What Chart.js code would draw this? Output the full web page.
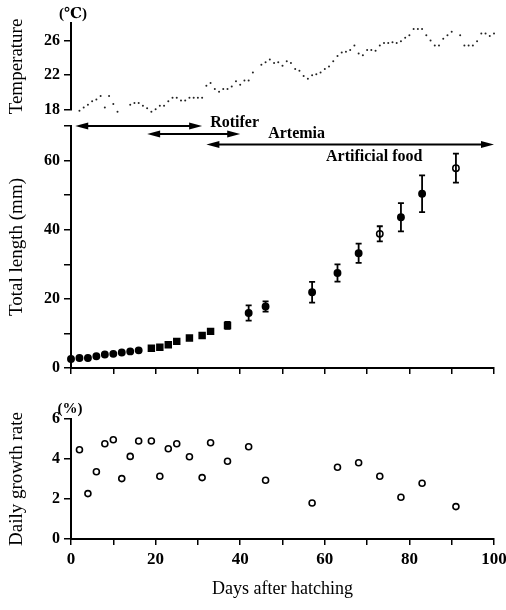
<!DOCTYPE html>
<html>
<head>
<meta charset="utf-8">
<script src="https://cdn.jsdelivr.net/npm/chart.js@4"></script>
<style>
  body { margin: 0; background: #fff; }
  #wrap { position: relative; width: 506px; height: 610px; }
  canvas { position: absolute; left: 0; }
</style>
</head>
<body>
<div id="wrap">
  <canvas id="temp-chart" width="506" height="120" style="top:0"></canvas>
  <canvas id="length-chart" width="506" height="275" style="top:100px"></canvas>
  <canvas id="rate-chart" width="506" height="230" style="top:380px"></canvas>
</div>
<script>
// water temperature, daily readings
var tempDays = [2, 3, 4, 5, 6, 7, 8, 9, 10, 11,
  14, 15, 16, 17, 18, 19, 20, 21, 22, 23,
  24, 25, 26, 27, 28, 29, 30, 31, 32, 33,
  34, 35, 36, 37, 38, 39, 40, 41, 42, 43,
  45, 46, 47, 48, 49, 50, 51, 52, 53, 54,
  55, 56, 57, 58, 59, 60, 61, 62, 63, 64,
  65, 66, 67, 68, 69, 70, 71, 72, 73, 74,
  75, 76, 77, 78, 79, 80, 81, 82, 83, 84,
  85, 86, 87, 88, 89, 90,
  92, 93, 94, 95, 96, 97, 98, 99, 100, 101];
var temps = [17.9, 18.3, 18.6, 19.0, 19.2, 19.6, 18.3, 19.6, 18.7, 17.8,
  18.6, 18.8, 18.8, 18.5, 18.2, 17.8, 18.1, 18.5, 18.5, 19.0,
  19.4, 19.4, 19.1, 19.1, 19.4, 19.4, 19.4, 19.4, 20.8, 21.1,
  20.4, 20.1, 20.4, 20.4, 20.7, 21.3, 20.9, 21.4, 21.4, 22.3,
  23.2, 23.5, 23.8, 23.4, 23.5, 23.1, 23.6, 23.4, 22.7, 22.5,
  21.9, 21.6, 22.0, 22.1, 22.3, 22.7, 23.0, 23.6, 24.2, 24.6,
  24.7, 24.9, 25.4, 24.5, 24.3, 24.9, 24.9, 24.8, 25.4, 25.7,
  25.7, 25.8, 25.7, 25.9, 26.3, 26.6, 27.3, 27.3, 27.3, 26.6,
  26.0, 25.4, 25.4, 26.2, 26.6, 27.0,
  26.6, 25.4, 25.4, 25.4, 25.9, 26.8, 26.8, 26.5, 26.8, 27.5];

// total length (mm), mean and SD
var lengthDays = [0, 2, 4, 6, 8, 10, 12, 14, 16, 19, 21, 23, 25, 28, 31, 33, 37, 42, 46, 57, 63, 68, 73, 78, 83, 91];
var lengths = [2.6, 2.9, 2.9, 3.4, 3.9, 4.1, 4.5, 4.8, 5.1, 5.7, 6.0, 6.7, 7.7, 8.7, 9.4, 10.6, 12.3, 15.9, 17.8, 21.9, 27.5, 33.2, 38.8, 43.6, 50.4, 57.8];
var lengthSD = [0, 0, 0, 0, 0, 0, 0, 0, 0, 0, 0, 0, 0, 0, 0, 0, 1.0, 2.2, 1.5, 3.0, 2.5, 2.8, 2.2, 4.1, 5.3, 4.2];

// daily growth rate (%)
var rateDays = [2, 4, 6, 8, 10, 12, 14, 16, 19, 21, 23, 25, 28, 31, 33, 37, 42, 46, 57, 63, 68, 73, 78, 83, 91];
var rates = [4.46, 2.27, 3.36, 4.76, 4.96, 3.02, 4.13, 4.9, 4.9, 3.14, 4.51, 4.76, 4.11, 3.07, 4.81, 3.89, 4.61, 2.94, 1.8, 3.59, 3.81, 3.14, 2.09, 2.79, 1.62];

// feeding periods (days)
var feeds = ['Rotifer', 'Artemia', 'Artificial food'];
var feedStart = [1, 18, 32];
var feedEnd = [31, 40, 100];

Chart.defaults.font.family = "'Liberation Serif', 'Times New Roman', serif";
Chart.defaults.color = '#000';
Chart.defaults.animation = false;

var AREA_LEFT = 71;

function pairs(xs, ys) {
  return xs.map(function (x, i) { return { x: x, y: ys[i] }; });
}

function leftAxis(min, max, step, every, title) {
  return {
    type: 'linear', position: 'left', min: min, max: max,
    border: { display: true, color: '#000', width: 2 },
    grid: { drawOnChartArea: false, tickLength: 7, color: '#000', lineWidth: 1.5 },
    ticks: {
      stepSize: step, padding: 4, color: '#000',
      font: { size: 16, weight: 'bold' },
      callback: function (v) { return (v - min) % every === 0 ? String(v) : ''; }
    },
    title: { display: true, text: title, color: '#000', font: { size: 19 }, padding: { top: 6, bottom: 0 } },
    afterFit: function (s) { s.width = AREA_LEFT; s.paddingTop = 0; s.paddingBottom = 0; }
  };
}

function dayAxis(show, labels, height, title) {
  return {
    type: 'linear', position: 'bottom', min: 0, max: 100, display: show,
    border: { display: true, color: '#000', width: 2 },
    grid: { drawOnChartArea: false, tickLength: 6, color: '#000', lineWidth: 1.5 },
    ticks: {
      stepSize: 10, display: labels, padding: 4, maxRotation: 0, autoSkip: false, color: '#000',
      font: { size: 17, weight: 'bold' },
      callback: function (v) { return v % 20 === 0 ? String(v) : ''; }
    },
    title: title ? { display: true, text: title, color: '#000', font: { size: 18 }, padding: { top: 0, bottom: 10 } } : { display: false },
    afterFit: function (s) { s.height = height; s.paddingLeft = 0; s.paddingRight = 0; }
  };
}

// unit text above the top of the y axis
function unitLabel(text, dx, dy) {
  return {
    id: 'unit',
    afterDraw: function (chart) {
      var ctx = chart.ctx, a = chart.chartArea;
      ctx.save();
      ctx.font = "bold 15px 'Liberation Serif', 'DejaVu Serif', serif";
      ctx.fillStyle = '#000';
      ctx.textAlign = 'center';
      ctx.textBaseline = 'middle';
      ctx.fillText(text, a.left + dx, a.top + dy);
      ctx.restore();
    }
  };
}

// vertical SD bars on the length points
var errorBars = {
  id: 'errorBars',
  afterDatasetsDraw: function (chart) {
    var ctx = chart.ctx, xs = chart.scales.x, ys = chart.scales.y;
    ctx.save();
    ctx.strokeStyle = '#000';
    ctx.lineWidth = 1.8;
    lengthSD.forEach(function (sd, i) {
      if (!sd) return;
      var x = xs.getPixelForValue(lengthDays[i]);
      var y1 = ys.getPixelForValue(lengths[i] + sd);
      var y2 = ys.getPixelForValue(lengths[i] - sd);
      ctx.beginPath();
      ctx.moveTo(x, y1); ctx.lineTo(x, y2);
      ctx.moveTo(x - 3, y1); ctx.lineTo(x + 3, y1);
      ctx.moveTo(x - 3, y2); ctx.lineTo(x + 3, y2);
      ctx.stroke();
    });
    ctx.restore();
  }
};

// double-headed arrows for the feeding periods
var feedArrows = {
  id: 'feedArrows',
  afterDraw: function (chart) {
    var ctx = chart.ctx, xs = chart.scales.x, top = chart.chartArea.top;
    var rows = [0, 8, 18.5];
    var labelX = [function (e) { return e + 8; }, function (e) { return e + 28; }, function () { return xs.getPixelForValue(60.3); }];
    var labelDy = [-3, 0, 12];
    ctx.save();
    ctx.strokeStyle = '#000';
    ctx.fillStyle = '#000';
    ctx.lineWidth = 2;
    feeds.forEach(function (name, i) {
      var x1 = xs.getPixelForValue(feedStart[i]);
      var x2 = xs.getPixelForValue(feedEnd[i]);
      var y = top + rows[i];
      ctx.beginPath();
      ctx.moveTo(x1 + 8, y); ctx.lineTo(x2 - 8, y);
      ctx.stroke();
      ctx.beginPath();
      ctx.moveTo(x1, y); ctx.lineTo(x1 + 13, y - 3.5); ctx.lineTo(x1 + 13, y + 3.5); ctx.closePath();
      ctx.moveTo(x2, y); ctx.lineTo(x2 - 13, y - 3.5); ctx.lineTo(x2 - 13, y + 3.5); ctx.closePath();
      ctx.fill();
      ctx.font = "bold 16px 'Liberation Serif', serif";
      ctx.textAlign = 'left';
      ctx.textBaseline = 'middle';
      ctx.fillText(name, labelX[i](x2), y + labelDy[i]);
    });
    ctx.restore();
  }
};

new Chart(document.getElementById('temp-chart'), {
  type: 'scatter',
  data: {
    datasets: [{
      data: pairs(tempDays, temps),
      pointRadius: 1,
      pointBackgroundColor: '#222',
      pointBorderWidth: 0,
      showLine: false,
      clip: false
    }]
  },
  options: {
    responsive: false,
    layout: { padding: { left: 0, top: 23, right: 12, bottom: 10 } },
    plugins: { legend: { display: false }, tooltip: { enabled: false } },
    scales: {
      x: dayAxis(false, false, 0, null),
      y: leftAxis(18, 28, 2, 4, 'Temperature')
    }
  },
  plugins: [unitLabel('(℃)', 2, -9)]
});

new Chart(document.getElementById('length-chart'), {
  type: 'scatter',
  data: {
    datasets: [{
      data: pairs(lengthDays, lengths),
      pointStyle: lengthDays.map(function (d) { return d >= 19 && d <= 37 ? 'rect' : 'circle'; }),
      pointRadius: lengthDays.map(function (d) { return d >= 19 && d <= 37 ? 4.2 : 3.2; }),
      pointBackgroundColor: lengthDays.map(function (d) { return d === 73 || d === 91 ? '#fff' : '#000'; }),
      pointBorderColor: '#000',
      pointBorderWidth: 1.5,
      showLine: false,
      clip: false
    }]
  },
  options: {
    responsive: false,
    layout: { padding: { left: 0, top: 26, right: 12, bottom: 0 } },
    plugins: { legend: { display: false }, tooltip: { enabled: false } },
    scales: {
      x: dayAxis(true, false, 7, null),
      y: leftAxis(0, 70, 10, 20, 'Total length (mm)')
    }
  },
  plugins: [errorBars, feedArrows]
});

new Chart(document.getElementById('rate-chart'), {
  type: 'scatter',
  data: {
    datasets: [{
      data: pairs(rateDays, rates),
      pointStyle: 'circle',
      pointRadius: 3,
      pointBackgroundColor: '#fff',
      pointBorderColor: '#000',
      pointBorderWidth: 1.6,
      showLine: false
    }]
  },
  options: {
    responsive: false,
    layout: { padding: { left: 0, top: 39, right: 12, bottom: 0 } },
    plugins: { legend: { display: false }, tooltip: { enabled: false } },
    scales: {
      x: dayAxis(true, true, 71, 'Days after hatching'),
      y: leftAxis(0, 6, 1, 2, 'Daily growth rate')
    }
  },
  plugins: [unitLabel('(%)', -1, -10)]
});
</script>
</body>
</html>
